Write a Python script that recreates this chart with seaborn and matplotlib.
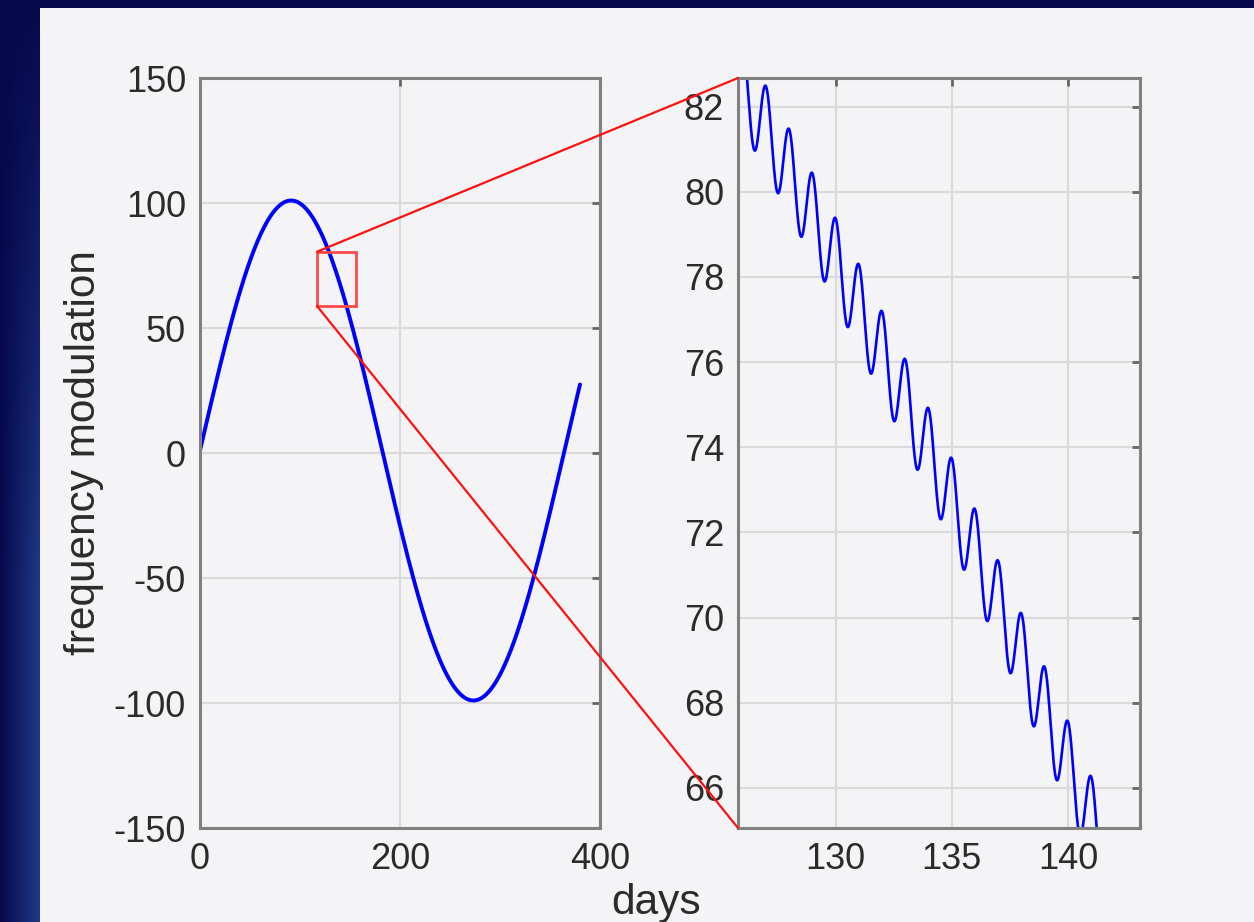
import numpy as np
import pandas as pd
import matplotlib
matplotlib.use("Agg")
import matplotlib.pyplot as plt
from matplotlib.patches import Rectangle, ConnectionPatch
import seaborn as sns

# Signal: an annual swing with a small daily wobble on top
annual_amplitude = 100.0
annual_period_days = 364.5
daily_amplitude = 1.0
daily_period_days = 1.0
first_day, last_day = 0.0, 380.0
main_step_days = 1.0      # overview sampled once a day
zoom_step_days = 0.01     # zoomed view sampled finely

# Axis settings
main_xlim = (0, 400)
main_ylim = (-150, 150)
main_xticks = [0, 200, 400]
main_yticks = [-150, -100, -50, 0, 50, 100, 150]
zoom_xlim = (125.8, 143.1)
zoom_ylim = (65.06, 82.67)
zoom_xticks = [130, 135, 140]
zoom_yticks = [66, 68, 70, 72, 74, 76, 78, 80, 82]
# Highlight box drawn on the main panel (days, value)
box_days = (117, 156)
box_values = (58.8, 80.5)


def signal(d):
    return (annual_amplitude * np.sin(2 * np.pi * d / annual_period_days)
            + daily_amplitude * np.cos(2 * np.pi * d / daily_period_days))


main_days = np.arange(first_day, last_day + main_step_days / 2, main_step_days)
df_main = pd.DataFrame({"days": main_days, "fm": signal(main_days)})
zoom_days = np.arange(zoom_xlim[0] - 1, zoom_xlim[1] + 1, zoom_step_days)
df_zoom = pd.DataFrame({"days": zoom_days, "fm": signal(zoom_days)})

sns.set_style("white")
plt.rcParams["font.family"] = ["Liberation Sans", "DejaVu Sans"]
plt.rcParams["axes.unicode_minus"] = False

W, H = 1254, 922
fig = plt.figure(figsize=(W / 100, H / 100), dpi=100)

# Slide-style dark blue backdrop with a light panel on top
bg = fig.add_axes([0, 0, 1, 1], zorder=-10)
yy, xx = np.mgrid[0:H, 0:W]
t = np.clip(xx / 45.0, 0, 1) * np.clip(yy / H * 1.6, 0, 1)
dark = np.array([0x06, 0x09, 0x4c]) / 255
light = np.array([0x24, 0x40, 0x8e]) / 255
img = dark[None, None, :] + (light - dark)[None, None, :] * t[..., None]
bg.imshow(img, extent=[0, W, H, 0], aspect="auto", interpolation="bilinear")
bg.add_patch(Rectangle((40, 8), W - 40, H - 8, facecolor="#f4f4f7", edgecolor="none"))
bg.set_xlim(0, W)
bg.set_ylim(H, 0)
bg.axis("off")

panel_bg = "#f4f4f7"
spine_c = "#808080"
grid_c = "#dadada"
text_c = "#2b2b2b"
tick_fs = 26


def style_axes(ax):
    ax.set_facecolor(panel_bg)
    for s in ax.spines.values():
        s.set_visible(True)
        s.set_color(spine_c)
        s.set_linewidth(2.2)
    ax.grid(True, color=grid_c, linewidth=1.5)
    ax.tick_params(direction="in", length=6, width=2, color="#666666",
                   labelsize=tick_fs, labelcolor=text_c, pad=10,
                   top=True, right=True)
    ax.set_xlabel("")
    ax.set_ylabel("")


ax1 = fig.add_axes([200 / W, 1 - 828 / H, 400 / W, 750 / H])
ax2 = fig.add_axes([738 / W, 1 - 828 / H, 402 / W, 750 / H])

sns.lineplot(data=df_main, x="days", y="fm", ax=ax1, color="#0000ff",
             linewidth=2.8, estimator=None, sort=False)
sns.lineplot(data=df_zoom, x="days", y="fm", ax=ax2, color="#0000ff",
             linewidth=1.9, estimator=None, sort=False)

ax1.set_xlim(*main_xlim)
ax1.set_ylim(*main_ylim)
ax1.set_xticks(main_xticks)
ax1.set_yticks(main_yticks)
ax2.set_xlim(*zoom_xlim)
ax2.set_ylim(*zoom_ylim)
ax2.set_xticks(zoom_xticks)
ax2.set_yticks(zoom_yticks)
style_axes(ax1)
style_axes(ax2)

ax1.set_ylabel("frequency modulation", fontsize=30.5, color=text_c, labelpad=7)
fig.text(656 / W, 1 - 903 / H, "days", fontsize=30.5, color=text_c,
         ha="center", va="center")

# Highlight box and connector lines to the zoomed panel
ax1.add_patch(Rectangle((box_days[0], box_values[0]),
                        box_days[1] - box_days[0], box_values[1] - box_values[0],
                        fill=False, edgecolor="#ff4a4a", linewidth=2.0, zorder=5))
for yb, ya in ((box_values[1], 1.0), (box_values[0], 0.0)):
    con = ConnectionPatch(xyA=(box_days[0], yb), coordsA=ax1.transData,
                          xyB=(0.0, ya), coordsB=ax2.transAxes,
                          color="#ff1010", linewidth=1.6, zorder=6)
    fig.add_artist(con)

fig.savefig("out.png", dpi=100, facecolor=fig.get_facecolor())
